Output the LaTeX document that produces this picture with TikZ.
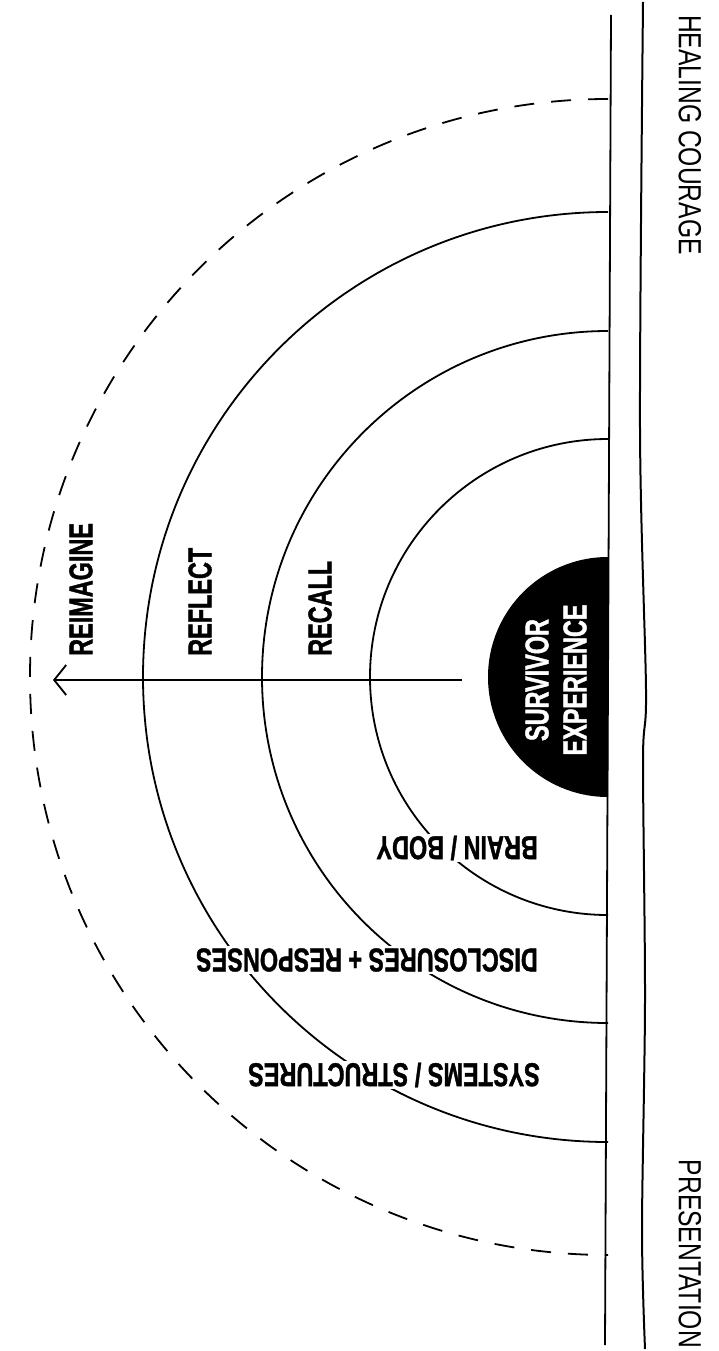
\documentclass[tikz,border=0pt]{standalone}
\usepackage{fontspec}
\newfontfamily\condfont[FakeStretch=0.71,FakeBold=1.2]{Liberation Sans}
\newfontfamily\thinfont[FakeStretch=0.77]{Liberation Sans}
\usetikzlibrary{arrows.meta,positioning}
\tikzset{
  ring/.style={line width=1.8pt},
  ringlabel/.style={font=\condfont\bfseries\fontsize{33}{38}\selectfont, inner sep=1pt},
  cutlabel/.style={ringlabel, fill=white, inner sep=2pt},
  sidelabel/.style={font=\thinfont\fontsize{32}{36}\selectfont, inner sep=0pt},
}

\begin{document}
\begin{tikzpicture}[x=1pt,y=-1pt]
  \useasboundingbox (0,0) rectangle (719,1351);

  % Base lines
  \draw[ring] (611,15) -- (605,1345);
  \draw[line width=2pt] plot[smooth] coordinates {(643,2) (640,430) (646,690) (643,760) (645,1000) (642,1230) (645,1349)};

  % Rings
  \fill (608,557) arc[start angle=270, end angle=90, radius=120] -- cycle;
  \foreach \r in {238,346,465} {
    \draw[ring] (608,{677-\r}) arc[start angle=270, end angle=90, radius=\r];
  }
  \draw[ring, dash pattern=on 20pt off 17pt] (608,99) arc[start angle=270, end angle=90, radius=578];

  % Arrow
  \coordinate (start) at (462,680);
  \coordinate (tip) at (53,680);
  \draw[ring, -{Straight Barb[length=12pt,width=30pt]}] (start) -- (tip);

  % Ring labels
  \node[ringlabel, rotate=90, anchor=west] (reimagine) at (81,657) {REIMAGINE};
  \node[ringlabel, rotate=90, anchor=west] (reflect) at (200,657) {REFLECT};
  \node[ringlabel, rotate=90, anchor=west] (recall) at (320,657) {RECALL};
  \node[ringlabel, rotate=90, text=white, align=center] (survivor) at (556,680) {SURVIVOR\\EXPERIENCE};

  \node[cutlabel, rotate=180, anchor=west] (brain) at (540,848) {BRAIN / BODY};
  \node[cutlabel, rotate=180, anchor=west] (disclose) at (540,960) {DISCLOSURES + RESPONSES};
  \node[cutlabel, rotate=180, anchor=west] (systems) at (542,1075) {SYSTEMS / STRUCTURES};

  % Side labels
  \node[sidelabel, rotate=-90, anchor=west] (healing) at (690,15) {HEALING COURAGE};
  \node[sidelabel, rotate=-90, anchor=east] (presentation) at (690,1348) {PRESENTATION};
\end{tikzpicture}
\end{document}
